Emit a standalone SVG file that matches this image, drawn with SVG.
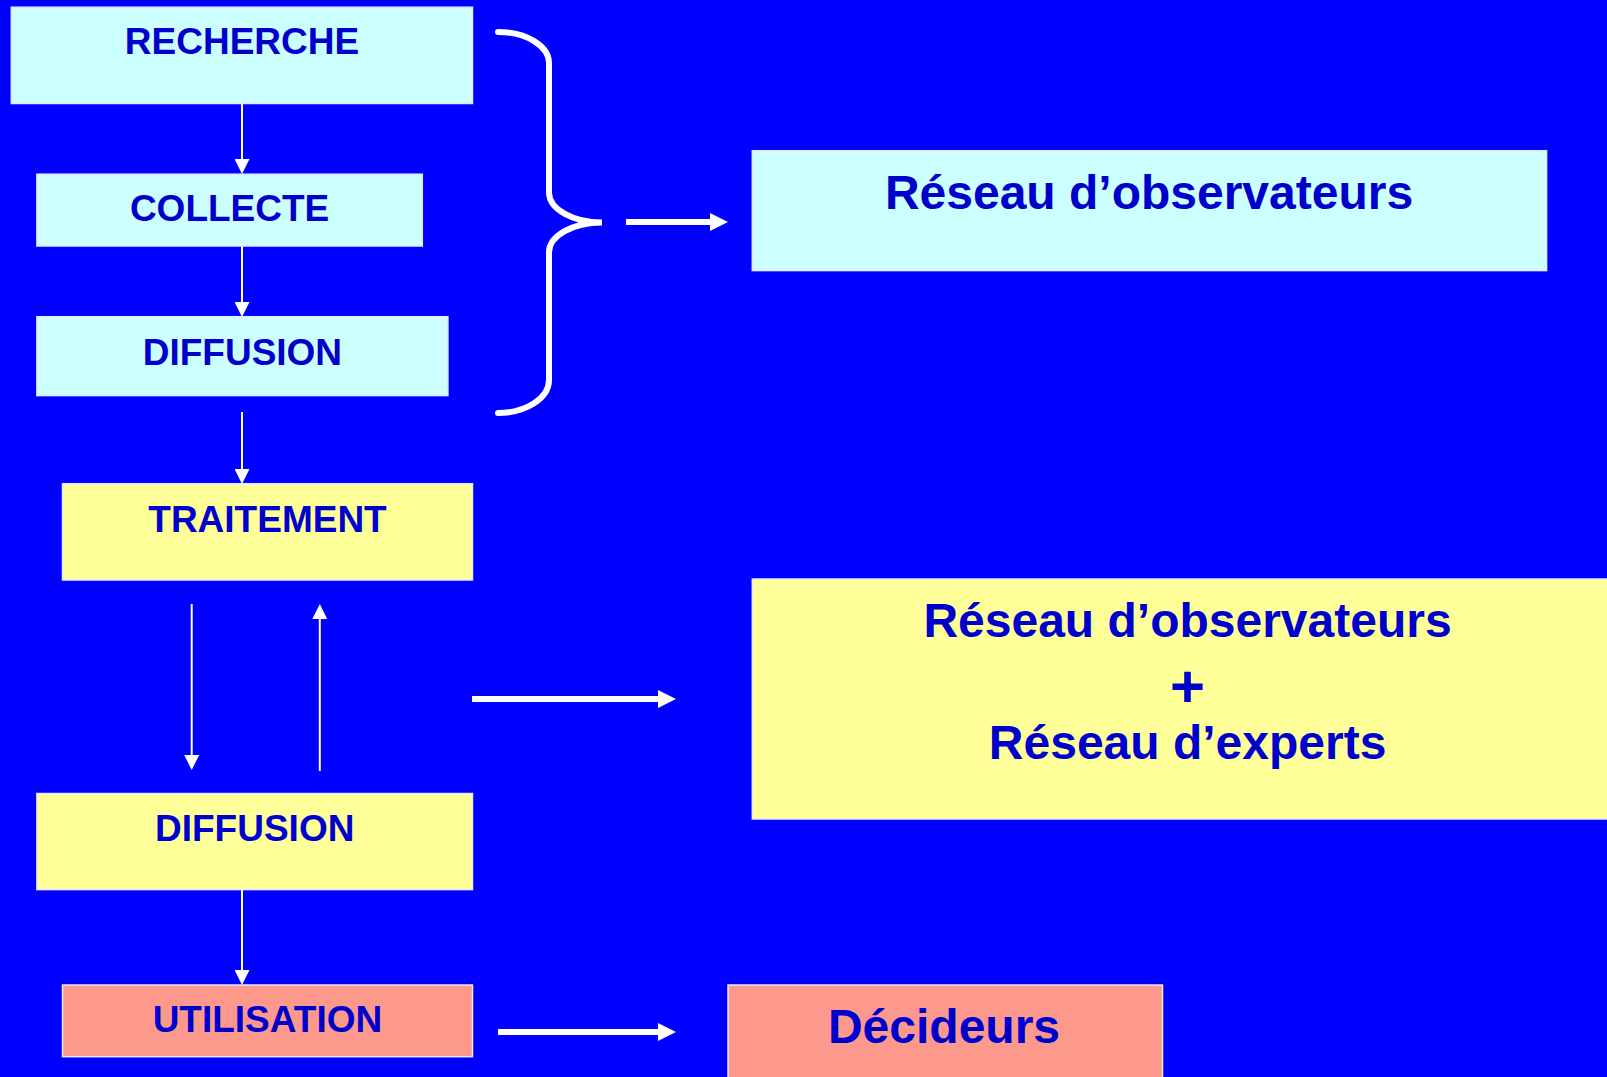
<svg xmlns="http://www.w3.org/2000/svg" width="1607" height="1077" viewBox="0 0 1607 1077">
<style>
.box{stroke:#E6E6FF;stroke-width:1.5}
.cy{fill:#CCFFFF}
.ye{fill:#FFFF99}
.sa{fill:#FC998C}
.t{font-family:"Liberation Sans",Arial,sans-serif;font-weight:bold;fill:#0000CC;text-anchor:middle}
.s{font-size:37px}
.b{font-size:48px}
.thin{stroke:#FFFFFF;stroke-width:2;fill:none}
.thick{stroke:#FFFFFF;stroke-width:6;fill:none}
</style>
<defs>
<marker id="ah" markerUnits="userSpaceOnUse" markerWidth="15" markerHeight="15" refX="0" refY="7.5" orient="auto">
<path d="M0,0 L15,7.5 L0,15 z" fill="#FFFFFF"/>
</marker>
<marker id="ahb" markerUnits="userSpaceOnUse" markerWidth="18" markerHeight="18" refX="0" refY="9" orient="auto">
<path d="M0,0 L18,9 L0,18 z" fill="#FFFFFF"/>
</marker>
</defs>
<rect x="0" y="0" width="1607" height="1077" fill="#0000FF"/>
<g id="connectors">
<line class="thin" x1="242" y1="103.5" x2="242" y2="159" marker-end="url(#ah)"/>
<line class="thin" x1="242" y1="246" x2="242" y2="302" marker-end="url(#ah)"/>
<line class="thin" x1="242" y1="412" x2="242" y2="469" marker-end="url(#ah)"/>
<line class="thin" x1="191.7" y1="604" x2="191.7" y2="755" marker-end="url(#ah)"/>
<line class="thin" x1="319.8" y1="771" x2="319.8" y2="619" marker-end="url(#ah)"/>
<line class="thin" x1="242" y1="890" x2="242" y2="970" marker-end="url(#ah)"/>
<path class="thick" stroke-width="5" stroke-linecap="round" d="M498,32 A51,31 0 0 1 549,63 L549,193 A53,30 0 0 0 602,222.5 A53,30 0 0 0 549,253 L549,380 A51,33 0 0 1 498,413"/>
<line class="thick" x1="626" y1="222" x2="710" y2="222" marker-end="url(#ahb)"/>
<line class="thick" x1="472" y1="699" x2="658" y2="699" marker-end="url(#ahb)"/>
<line class="thick" x1="498" y1="1032" x2="658" y2="1032" marker-end="url(#ahb)"/>
</g>
<g id="recherche">
<rect class="box cy" x="11.3" y="7.2" width="461.2" height="96.3"/>
<text class="t s" x="242" y="54">RECHERCHE</text>
</g>
<g id="collecte">
<rect class="box cy" x="36.9" y="174.2" width="385.4" height="71.8"/>
<text class="t s" x="229.6" y="221">COLLECTE</text>
</g>
<g id="diffusion1">
<rect class="box cy" x="36.9" y="316.7" width="411" height="78.9"/>
<text class="t s" x="242.4" y="364.5">DIFFUSION</text>
</g>
<g id="traitement">
<rect class="box ye" x="62.5" y="483.7" width="410" height="96.3"/>
<text class="t s" x="267.5" y="532">TRAITEMENT</text>
</g>
<g id="diffusion2">
<rect class="box ye" x="36.9" y="793.5" width="435.6" height="96.1"/>
<text class="t s" x="254.7" y="841.3">DIFFUSION</text>
</g>
<g id="utilisation">
<rect class="box sa" x="62.5" y="985" width="410" height="71.7"/>
<text class="t s" x="267.4" y="1032.3">UTILISATION</text>
</g>
<g id="reseau-observateurs">
<rect class="box cy" x="752.3" y="150.7" width="794.3" height="119.9"/>
<text class="t b" x="1149" y="209.3">Réseau d’observateurs</text>
</g>
<g id="reseau-experts">
<rect class="box ye" x="752.3" y="579" width="870" height="240"/>
<text class="t b" x="1187.5" y="637.3">Réseau d’observateurs</text>
<text class="t" font-size="60" x="1187.6" y="707">+</text>
<text class="t b" x="1187.6" y="759.4">Réseau d’experts</text>
</g>
<g id="decideurs">
<rect class="box sa" x="728" y="985" width="434.5" height="110"/>
<text class="t b" x="944" y="1043.3">Décideurs</text>
</g>
</svg>
